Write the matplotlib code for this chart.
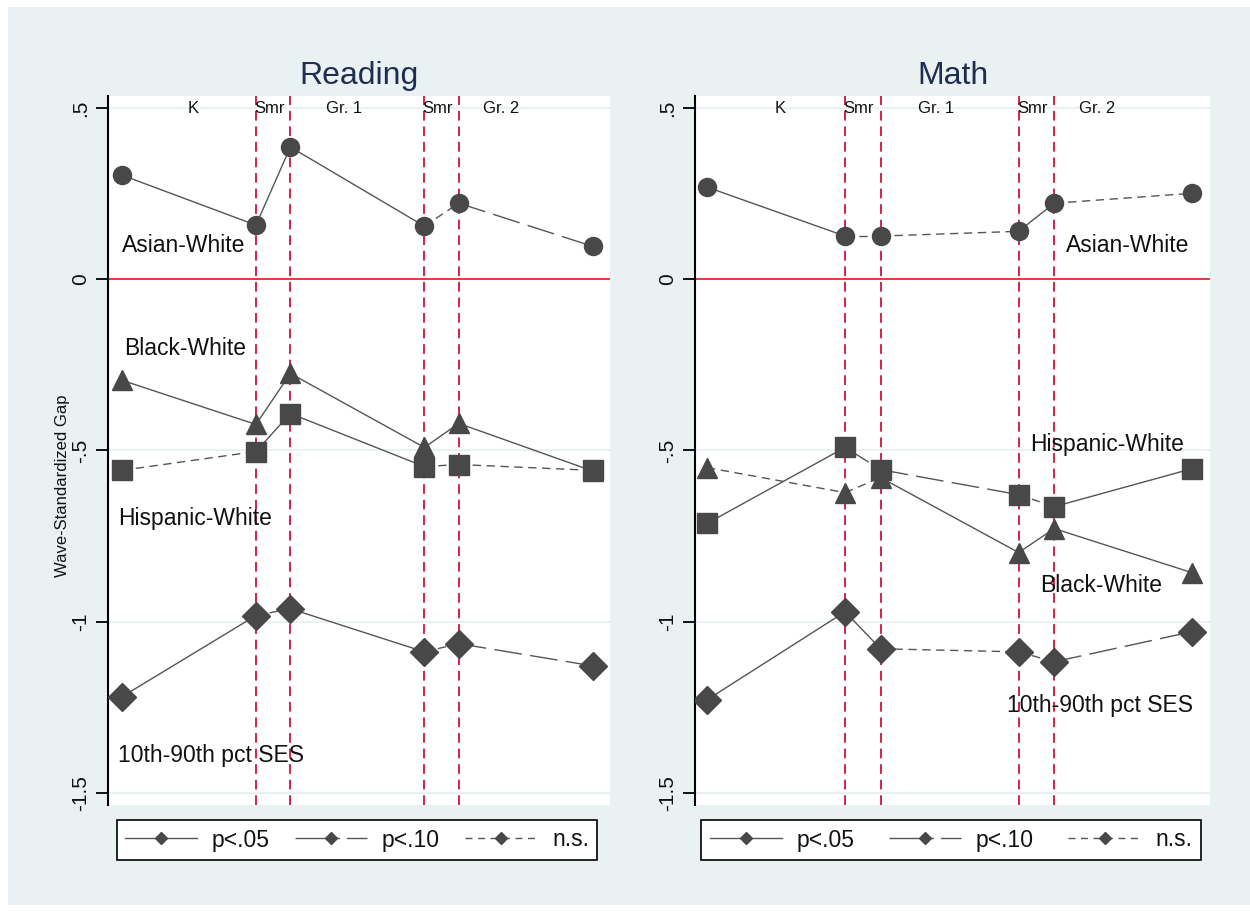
import numpy as np
import matplotlib
matplotlib.use("Agg")
import matplotlib.pyplot as plt
from matplotlib.lines import Line2D
from matplotlib.patches import Rectangle

plt.rcParams['font.family'] = ['Liberation Sans', 'DejaVu Sans']

# ---- data ----------------------------------------------------------------
months = [0, 7, 8.8, 15.8, 17.6, 24.6]          # wave timing (months from K fall)
breaks = [7, 8.8, 15.8, 17.6]                   # summer boundaries
period_labels = ["K", "Smr", "Gr. 1", "Smr", "Gr. 2"]
period_x = [3.7, 7.7, 11.6, 16.5, 19.8]

read_asian = [0.304, 0.158, 0.386, 0.155, 0.222, 0.096]
read_black = [-0.295, -0.424, -0.275, -0.491, -0.421, -0.560]
read_hisp = [-0.558, -0.503, -0.392, -0.547, -0.541, -0.558]
read_ses = [-1.219, -0.982, -0.962, -1.088, -1.064, -1.129]

math_asian = [0.269, 0.126, 0.126, 0.140, 0.222, 0.251]
math_black = [-0.550, -0.623, -0.579, -0.798, -0.728, -0.857]
math_hisp = [-0.713, -0.491, -0.556, -0.629, -0.664, -0.553]
math_ses = [-1.228, -0.971, -1.079, -1.088, -1.117, -1.029]

# significance of each change between waves
read_asian_sig = ["p05", "p05", "p05", "ns", "p10"]
read_black_sig = ["p05", "p05", "p05", "p05", "p05"]
read_hisp_sig = ["ns", "p05", "p05", "ns", "ns"]
read_ses_sig = ["p05", "ns", "p05", "ns", "p10"]

math_asian_sig = ["p05", "ns", "ns", "p05", "ns"]
math_black_sig = ["ns", "ns", "p05", "p05", "p05"]
math_hisp_sig = ["p05", "p10", "p10", "ns", "p05"]
math_ses_sig = ["p05", "p05", "ns", "ns", "p10"]

sig_keys = ["p05", "p10", "ns"]
sig_labels = ["p<.05", "p<.10", "n.s."]

# ---- style ---------------------------------------------------------------
BG = "#e9f1f3"
LINE = "#555555"
MK = "#484848"
RED_V = "#d4234d"
RED_H = "#e8262a"
TXT = "#111111"
TITLE = "#1f2d4f"
LS = {"p05": "-", "p10": (0, (20, 6)), "ns": (0, (6, 4))}
LS_LEG = {"p05": "-", "p10": (0, (32, 5)), "ns": (0, (5, 4))}

fig = plt.figure(figsize=(12.5, 9.11), dpi=100)
fig.patch.set_facecolor("white")
fig.patches.append(Rectangle((0.006, 0.007), 0.994, 0.985, transform=fig.transFigure,
                             facecolor=BG, edgecolor="none", zorder=-10))

ax_r = fig.add_axes([0.0864, 0.1164, 0.4016, 0.7782])
ax_m = fig.add_axes([0.556, 0.1164, 0.412, 0.7782])


def draw_series(ax, y, sig, marker, ms):
    for i in range(len(y) - 1):
        ax.plot(months[i:i + 2], y[i:i + 2], color=LINE, lw=1.0, ls=LS[sig[i]],
                zorder=3, solid_capstyle="butt", dash_capstyle="butt")
    ax.plot(months, y, ls="none", marker=marker, ms=ms, color=MK, mec=MK, zorder=4)


def setup(ax, title, xlim):
    ax.set_facecolor("white")
    ax.set_xlim(*xlim)
    ax.set_ylim(-1.535, 0.535)
    ax.set_yticks([0.5, 0, -0.5, -1, -1.5])
    ax.set_yticklabels([".5", "0", "-.5", "-1", "-1.5"], rotation=90, va="center",
                       fontsize=15, color=TXT)
    ax.tick_params(axis="y", length=9, width=1.3, pad=4)
    ax.set_xticks([])
    for s in ["top", "right", "bottom"]:
        ax.spines[s].set_visible(False)
    ax.spines["left"].set_linewidth(1.5)
    for yv in [0.5, -0.5, -1, -1.5]:
        ax.axhline(yv, color="#e6eff0", lw=1.2, zorder=1)
    ax.axhline(0, color=RED_H, lw=1.3, zorder=2)
    for b in breaks:
        ax.axvline(b, color=RED_V, lw=1.4, ls=(0, (5, 3)), zorder=2)
    for lab, xp in zip(period_labels, period_x):
        ax.text(xp, 0.5, lab, ha="center", va="center", fontsize=12, color=TXT, zorder=5)
    ax.set_title(title, fontsize=23, color=TITLE, pad=9)


setup(ax_r, "Reading", (-0.73, 25.5))
setup(ax_m, "Math", (-0.61, 25.5))
ax_r.set_ylabel("Wave-Standardized Gap", fontsize=12, color=TXT)
ax_r.yaxis.set_label_coords(-0.076, 0.45)

for ax, data in [
    (ax_r, [(read_asian, read_asian_sig, "o", 13), (read_black, read_black_sig, "^", 15),
            (read_hisp, read_hisp_sig, "s", 14), (read_ses, read_ses_sig, "D", 14)]),
    (ax_m, [(math_asian, math_asian_sig, "o", 13), (math_black, math_black_sig, "^", 15),
            (math_hisp, math_hisp_sig, "s", 14), (math_ses, math_ses_sig, "D", 14)]),
]:
    for y, sig, mk, ms in data:
        draw_series(ax, y, sig, mk, ms)

lab_fs = 16.5
ax_r.text(0.0, 0.099, "Asian-White", ha="left", va="center", fontsize=lab_fs, color=TXT)
ax_r.text(0.1, -0.202, "Black-White", ha="left", va="center", fontsize=lab_fs, color=TXT)
ax_r.text(-0.21, -0.699, "Hispanic-White", ha="left", va="center", fontsize=lab_fs, color=TXT)
ax_r.text(-0.21, -1.392, "10th-90th pct SES", ha="left", va="center", fontsize=lab_fs, color=TXT)

ax_m.text(18.2, 0.099, "Asian-White", ha="left", va="center", fontsize=lab_fs, color=TXT, zorder=5)
ax_m.text(16.4, -0.482, "Hispanic-White", ha="left", va="center", fontsize=lab_fs, color=TXT, zorder=5)
ax_m.text(16.9, -0.895, "Black-White", ha="left", va="center", fontsize=lab_fs, color=TXT, zorder=5)
ax_m.text(15.2, -1.246, "10th-90th pct SES", ha="left", va="center", fontsize=lab_fs, color=TXT, zorder=5)

# legends
handles = [Line2D([], [], color=LINE, lw=1.0, ls=LS_LEG[k], marker="D", ms=6,
                  mfc=MK, mec=MK) for k in sig_keys]
for ax, xc, colsp in [(ax_r, 357 / 1250, 1.1), (ax_m, 951 / 1250, 1.5)]:
    leg = ax.legend(handles, sig_labels, loc="center", ncol=3,
                    bbox_to_anchor=(xc, 1 - 840 / 911), bbox_transform=fig.transFigure,
                    fontsize=16.5, handlelength=3.15, numpoints=1, fancybox=False,
                    framealpha=1, edgecolor="black", borderaxespad=0, borderpad=0.35,
                    handletextpad=0.65, columnspacing=colsp)
    leg.get_frame().set_linewidth(1.2)
    for t in leg.get_texts():
        t.set_color(TXT)

fig.savefig("out.png", dpi=100, facecolor=fig.get_facecolor())
